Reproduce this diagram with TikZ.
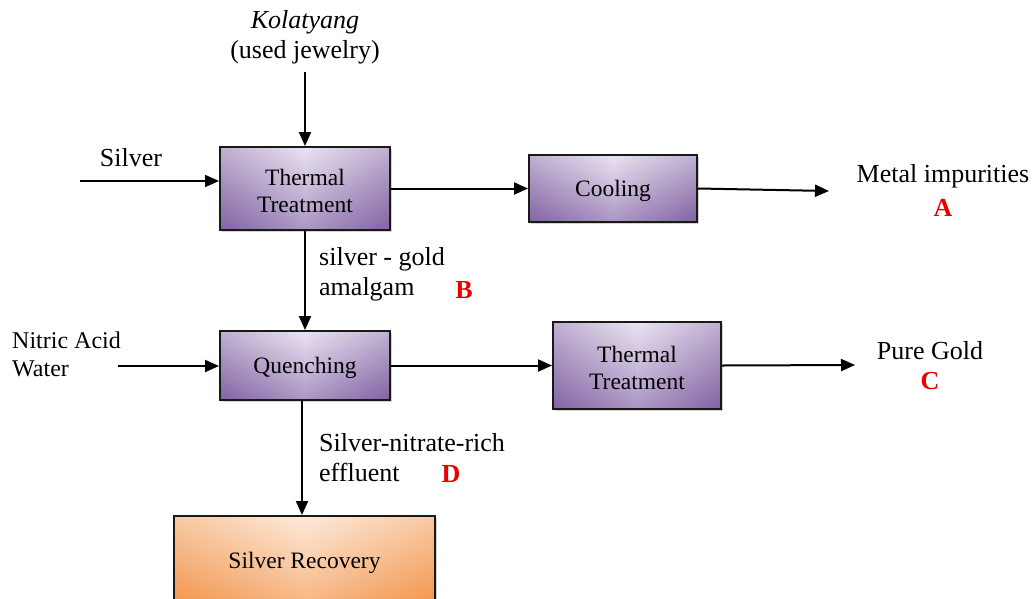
\documentclass[tikz,border=0pt]{standalone}
\usepackage{fontspec}
\setmainfont{Liberation Serif}
\usetikzlibrary{arrows.meta,shadows}
\definecolor{pedge}{RGB}{128,98,160}
\definecolor{pmid}{RGB}{222,212,234}
\definecolor{ptop}{RGB}{244,240,248}
\definecolor{pbot}{RGB}{130,100,165}
\definecolor{oedge}{RGB}{243,150,75}
\definecolor{omid}{RGB}{252,222,196}
\definecolor{otop}{RGB}{254,244,236}
\definecolor{obot}{RGB}{242,150,80}
\definecolor{lblred}{RGB}{235,0,0}
\tikzset{
  box/.style={rectangle, draw=black!90, line width=2pt, inner sep=0pt, align=center,
    font=\fontsize{23.5}{27}\selectfont,
    drop shadow={shadow xshift=2pt, shadow yshift=-2pt, opacity=0.35}},
  pbox/.style={box, path picture={
    \shade[left color=pedge, right color=pedge, middle color=pmid]
      (path picture bounding box.south west) rectangle (path picture bounding box.north east);
    \shade[top color=ptop, bottom color=pbot, fill opacity=0.55]
      (path picture bounding box.south west) rectangle (path picture bounding box.north east);}},
  obox/.style={box, path picture={
    \shade[left color=oedge, right color=oedge, middle color=omid]
      (path picture bounding box.south west) rectangle (path picture bounding box.north east);
    \shade[top color=otop, bottom color=obot, fill opacity=0.55]
      (path picture bounding box.south west) rectangle (path picture bounding box.north east);}},
  oneline/.style={text height=21.5pt},
  twoline/.style={text height=48pt},
  txt/.style={inner sep=0pt, font=\fontsize{26}{30}\selectfont},
  lbl/.style={inner sep=0pt, font=\fontsize{26}{30}\selectfont\bfseries, text=lblred},
  arr/.style={line width=2pt, -{Triangle[length=14pt,width=12pt]}}
}
\begin{document}
\begin{tikzpicture}[x=1pt,y=-1pt]
\useasboundingbox (0,0) rectangle (1036,598);
\clip (0,0) rectangle (1036,598);
% boxes
\node[pbox, twoline, minimum width=170pt, minimum height=83pt] (tt1) at (305,188.5) {Thermal\\Treatment};
\node[pbox, oneline, minimum width=168pt, minimum height=67pt] (cool) at (613,188.5) {Cooling};
\node[pbox, oneline, minimum width=170pt, minimum height=69pt] (qu) at (305,365.5) {Quenching};
\node[pbox, twoline, minimum width=168pt, minimum height=87pt] (tt2) at (637,365.5) {Thermal\\Treatment};
\node[obox, oneline, minimum width=261pt, minimum height=88pt] (sr) at (304.5,560) {Silver Recovery};
% texts
\node[txt, align=center] (kol) at (305,37) {\textit{Kolatyang}\\(used jewelry)};
\node[txt] (silver) at (131,158) {Silver};
\node[txt] (metal) at (943,176) {Metal impurities};
\node[lbl] (la) at (943,208) {A};
\node[txt, anchor=west, align=left] (sg) at (319,274) {silver - gold\\amalgam};
\node[lbl] (lb) at (464,290) {B};
\node[txt, anchor=west, align=left, font=\fontsize{24}{28}\selectfont] (na) at (12,354) {Nitric Acid\\Water};
\node[txt] (pure) at (930,351) {Pure Gold};
\node[lbl] (lc) at (930,381) {C};
\node[txt, anchor=west, align=left] (snr) at (319,458) {Silver-nitrate-rich\\effluent};
\node[lbl] (ld) at (451,474) {D};
% free ends
\coordinate (kolS) at (305,72);
\coordinate (silS) at (80,181);
\coordinate (metE) at (829,191);
\coordinate (naS) at (118,366);
\coordinate (pgE) at (855,365);
% connectors
\draw[arr] (kolS) -- (tt1.north);
\draw[arr] (silS) -- (silS -| tt1.west);
\draw[arr] (tt1.east) -- (cool.west);
\draw[arr] (cool.east) -- (metE);
\draw[arr] (tt1.south) -- (qu.north);
\draw[arr] (naS) -- (naS -| qu.west);
\draw[arr] (qu.east) -- (tt2.west);
\draw[arr] (tt2.east) -- (pgE);
\draw[arr] ([xshift=-3pt]qu.south) -- ([xshift=-3pt]qu.south |- sr.north);
\end{tikzpicture}
\end{document}
